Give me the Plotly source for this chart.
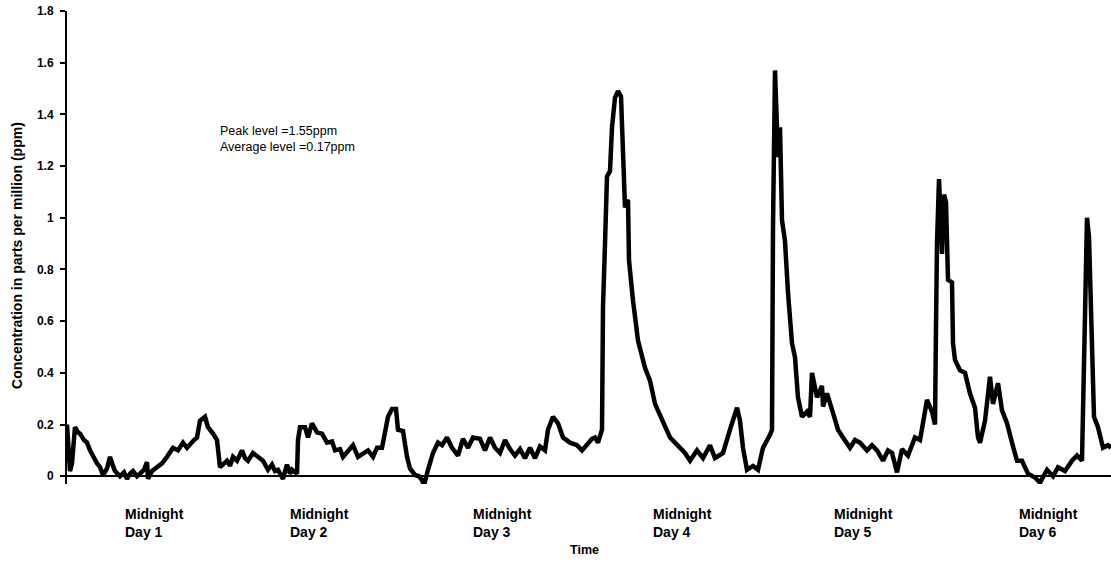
import plotly.graph_objects as go

# Elapsed time since start of record, minutes
elapsed_min = [
    0, 16, 24, 40, 64, 88, 104, 136, 160, 184, 208, 240, 264, 288, 320, 344, 368, 384, 424, 456,
    480, 504, 528, 560, 584, 616, 640, 648, 680, 720, 760, 800, 824, 848, 888, 928, 960, 984, 1016, 1040,
    1064, 1104, 1128, 1168, 1200, 1224, 1256, 1280, 1304, 1328, 1360, 1384,
    1400, 1424, 1448, 1488, 1528, 1568, 1608, 1640, 1664, 1688, 1728, 1760, 1784, 1800, 1840, 1848, 1864, 1904,
    1928, 1960, 2000, 2040, 2080, 2120, 2144, 2184, 2208, 2248, 2288, 2328, 2368, 2408, 2448, 2480, 2520, 2544,
    2568, 2600, 2632, 2648, 2688, 2720, 2744, 2784,
    2816, 2840, 2856, 2888, 2928, 2968, 3000, 3040, 3080, 3128, 3168, 3208, 3248, 3304, 3344, 3384, 3424, 3464,
    3504, 3544, 3584, 3624, 3664, 3704, 3744, 3784, 3824, 3848, 3888, 3928, 3968, 4024, 4080, 4120, 4160, 4200,
    4224, 4248,
    4280, 4288, 4304, 4320, 4344, 4360, 4384, 4408, 4432, 4448, 4464, 4488, 4496, 4528, 4568, 4624, 4664, 4704,
    4760, 4824, 4864, 4904, 4944, 4984, 5040, 5088, 5144, 5184, 5248, 5304, 5360, 5384, 5408, 5440, 5488, 5528,
    5568, 5624, 5640, 5648, 5664, 5688, 5704, 5720, 5744, 5768, 5800, 5824, 5848, 5880, 5920, 5944, 5960, 6000,
    6040, 6048, 6080, 6128, 6168, 6208, 6264, 6304, 6344, 6400, 6440, 6480, 6528, 6568, 6600, 6640, 6680, 6728,
    6784, 6824, 6880, 6920, 6944, 6952, 6960, 6976, 7000, 7016, 7032, 7048, 7080, 7088, 7104, 7144, 7184, 7224,
    7264, 7288, 7304, 7344, 7384, 7408, 7448, 7480, 7520, 7560, 7600, 7640, 7688, 7744, 7784, 7840, 7888, 7928,
    7984, 8040, 8080, 8120, 8136, 8152, 8160, 8176, 8200, 8216, 8248, 8288, 8328, 8352,
]

# Concentration, ppm
concentration_ppm = [
    0.20, 0.10, 0.02, 0.05, 0.19, 0.17, 0.165, 0.14, 0.13, 0.10, 0.075, 0.05, 0.035, 0.005, 0.03, 0.075, 0.04, 0.02, 0.0, 0.015,
    -0.01, 0.01, 0.02, 0.0, 0.01, 0.025, 0.055, -0.01, 0.02, 0.035, 0.05, 0.075, 0.09, 0.11, 0.10, 0.13, 0.11, 0.125, 0.14, 0.15,
    0.215, 0.23, 0.19, 0.165, 0.14, 0.035, 0.05, 0.06, 0.04, 0.075, 0.06, 0.09,
    0.10, 0.07, 0.06, 0.09, 0.075, 0.06, 0.025, 0.045, 0.02, 0.025, -0.01, 0.045, 0.01, 0.025, 0.01, 0.14, 0.19, 0.19,
    0.15, 0.205, 0.17, 0.165, 0.13, 0.135, 0.10, 0.105, 0.075, 0.10, 0.12, 0.075, 0.09, 0.10, 0.075, 0.11, 0.11, 0.165,
    0.23, 0.26, 0.26, 0.18, 0.175, 0.075, 0.03, 0.005,
    0.0, -0.015, -0.035, 0.025, 0.09, 0.13, 0.12, 0.15, 0.11, 0.08, 0.145, 0.11, 0.15, 0.145, 0.10, 0.15, 0.11, 0.09,
    0.14, 0.105, 0.08, 0.105, 0.07, 0.11, 0.07, 0.115, 0.10, 0.18, 0.23, 0.205, 0.15, 0.13, 0.12, 0.10, 0.12, 0.145,
    0.15, 0.13,
    0.18, 0.655, 0.90, 1.16, 1.18, 1.35, 1.465, 1.49, 1.47, 1.26, 1.04, 1.07, 0.835, 0.68, 0.525, 0.42, 0.37, 0.28,
    0.215, 0.15, 0.13, 0.11, 0.09, 0.06, 0.10, 0.07, 0.12, 0.07, 0.09, 0.18, 0.265, 0.215, 0.11, 0.025, 0.04, 0.025,
    0.11, 0.16, 0.18, 0.965, 1.57, 1.235, 1.35, 0.99, 0.91, 0.71, 0.515, 0.46, 0.305, 0.23, 0.25, 0.23, 0.40, 0.305,
    0.35, 0.27, 0.32, 0.245, 0.18, 0.15, 0.11, 0.14, 0.13, 0.10, 0.12, 0.10, 0.06, 0.10, 0.09, 0.015, 0.105, 0.08,
    0.15, 0.14, 0.295, 0.25, 0.20, 0.58, 0.90, 1.15, 0.86, 1.09, 1.06, 0.76, 0.75, 0.515, 0.45, 0.41, 0.40, 0.32,
    0.265, 0.15, 0.13, 0.215, 0.385, 0.28, 0.36, 0.255, 0.205, 0.13, 0.06, 0.06, 0.01, -0.005, -0.025, 0.025, 0.0, 0.035,
    0.02, 0.06, 0.08, 0.06, 0.475, 0.85, 1.0, 0.925, 0.525, 0.23, 0.19, 0.11, 0.12, 0.11,
]

# Category labels along the time axis (elapsed hours where each label begins)
midnight_labels = ["Midnight<br>Day 1", "Midnight<br>Day 2", "Midnight<br>Day 3",
                   "Midnight<br>Day 4", "Midnight<br>Day 5", "Midnight<br>Day 6"]
midnight_hours = [7.5, 29.4, 53.9, 77.8, 102.0, 126.7]

y_ticks = [0, 0.2, 0.4, 0.6, 0.8, 1.0, 1.2, 1.4, 1.6, 1.8]
y_ticktext = ["0", "0.2", "0.4", "0.6", "0.8", "1", "1.2", "1.4", "1.6", "1.8"]

hours = [m / 60 for m in elapsed_min]

FONT = "Liberation Sans, Arial, sans-serif"

fig = go.Figure()
fig.add_trace(go.Scatter(
    x=hours, y=concentration_ppm, mode="lines",
    line=dict(color="black", width=4.5), showlegend=False, hoverinfo="skip",
))

annotations = []
for lab, h in zip(midnight_labels, midnight_hours):
    annotations.append(dict(
        x=h, xref="x", y=-0.042, yref="paper", text="<b>" + lab + "</b>",
        showarrow=False, xanchor="left", yanchor="top", align="left",
        font=dict(family=FONT, size=14, color="black"),
    ))
annotations.append(dict(
    x=0.496, xref="paper", y=-0.14, yref="paper", text="<b>Time</b>",
    showarrow=False, xanchor="center", yanchor="middle",
    font=dict(family=FONT, size=12.5, color="black"),
))
annotations.append(dict(
    x=-0.048, xref="paper", y=0.484, yref="paper",
    text="<b>Concentration in parts per million (ppm)</b>",
    showarrow=False, textangle=-90, xanchor="center", yanchor="middle",
    font=dict(family=FONT, size=14, color="black"),
))
annotations.append(dict(
    x=0.1446, xref="paper", y=0.765, yref="paper",
    text="Peak level =1.55ppm<br>Average level =0.17ppm",
    showarrow=False, xanchor="left", yanchor="top", align="left",
    font=dict(family=FONT, size=12.5, color="black"),
))

fig.update_layout(
    width=1111, height=565,
    margin=dict(l=67, r=0, t=11, b=81),
    paper_bgcolor="white", plot_bgcolor="white",
    annotations=annotations,
    xaxis=dict(
        range=[0, 8352 / 60], showgrid=False, zeroline=False, showline=False,
        showticklabels=False, ticks="",
    ),
    yaxis=dict(
        range=[-0.03, 1.8], showgrid=False,
        zeroline=True, zerolinecolor="black", zerolinewidth=1.5,
        showline=True, linecolor="black", linewidth=2,
        ticks="outside", ticklen=5, tickwidth=1.5, tickcolor="black",
        ticklabelstandoff=4, ticklabeloverflow="allow",
        tickvals=y_ticks, ticktext=["<b>" + t + "</b>" for t in y_ticktext],
        tickfont=dict(family=FONT, size=12, color="black"),
        automargin=False,
    ),
)

# Remove the browser's default 8px body margin so the figure fills the window exactly.
fig.write_html("out.html", config={"displayModeBar": False},
               post_script="document.body.style.margin='0';")
